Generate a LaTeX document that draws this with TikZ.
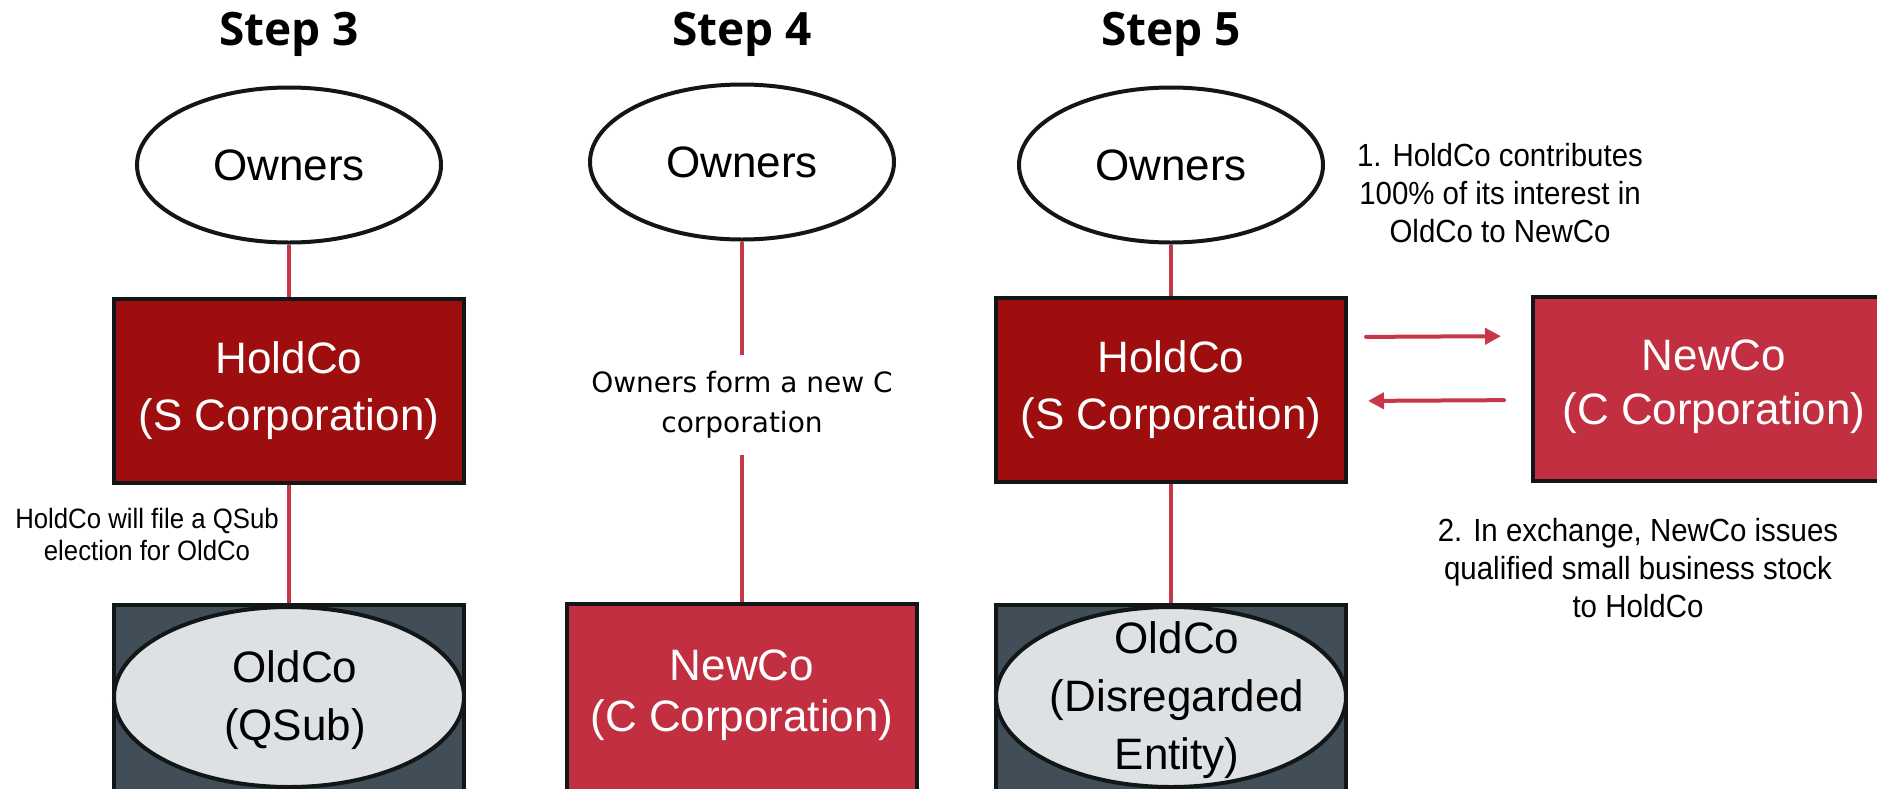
\documentclass[tikz,border=0pt]{standalone}
\usepackage{fontspec}
\setmainfont{Liberation Sans}
\newfontfamily\headfont{Open Sans}
\newfontfamily\wideface{DejaVu Sans}
\newfontfamily\narrowface[FakeStretch=0.92]{Liberation Sans}
\usetikzlibrary{shapes.geometric,arrows.meta}

\definecolor{holdred}{RGB}{158,14,14}
\definecolor{newred}{RGB}{193,47,64}
\definecolor{linkred}{RGB}{200,55,72}
\definecolor{slate}{RGB}{65,77,87}
\definecolor{pale}{RGB}{222,225,228}
\definecolor{edge}{RGB}{17,23,23}

\tikzset{
  owner/.style={ellipse, draw=edge, line width=4pt, fill=white, inner sep=0pt,
    minimum width=304pt, minimum height=155pt, font=\fontsize{44}{58}\selectfont},
  corp/.style={rectangle, draw=edge, line width=4pt, text=white, align=center,
    minimum width=350pt, minimum height=184pt, font=\fontsize{44}{57}\selectfont},
  scorp/.style={corp, fill=holdred},
  ccorp/.style={corp, fill=newred},
  subbox/.style={rectangle, draw=edge, line width=4pt, fill=slate,
    minimum width=350pt, minimum height=188pt},
  suboval/.style={ellipse, draw=edge, line width=4pt, fill=pale,
    minimum width=350pt, minimum height=180pt},
  subtext/.style={align=center, font=\fontsize{44}{58}\selectfont},
  link/.style={draw=linkred, line width=3.5pt},
  flow/.style={draw=linkred, line width=4pt, line cap=round,
    -{Triangle[length=16pt,width=16pt]}},
  steptitle/.style={anchor=base, font=\headfont\bfseries\fontsize{46}{50}\selectfont},
  note/.style={align=center, font=\narrowface\fontsize{32}{38}\selectfont},
  smallnote/.style={align=center, font=\narrowface\fontsize{28}{32}\selectfont},
}

\begin{document}
\begin{tikzpicture}[x=1pt, y=-1pt]
  \useasboundingbox (0,0) rectangle (1877,788);
  \clip (0,0) rectangle (1877,788);

  \begin{scope}[xshift=289pt]
    \node[steptitle] (t3) at (0,45) {Step 3};
    \node[owner] (own3) at (0,165) {Owners};
    \node[scorp] (hold3) at (0,391) {HoldCo\\(S Corporation)};
    \node[subbox] (old3) at (0,699) {};
    \node[suboval] (old3oval) at (0,697) {};
    \node[subtext] (old3txt) at (6,700) {OldCo\\(QSub)};
    \node[smallnote] (qsub) at (-142,534) {HoldCo will file a QSub\\election for OldCo};
    \draw[link] (own3) -- (hold3);
    \draw[link] (hold3) -- (old3);
  \end{scope}

  \begin{scope}[xshift=742pt]
    \node[steptitle] (t4) at (0,45) {Step 4};
    \node[owner] (own4) at (0,162) {Owners};
    \node[align=center, minimum height=100pt, inner sep=0pt,
      font=\wideface\fontsize{28}{40}\selectfont] (form4) at (0,405)
      {Owners form a new C\\corporation};
    \node[ccorp, minimum height=190pt, text depth=16pt,
      font=\fontsize{44}{51}\selectfont] (new4) at (0,699) {NewCo\\(C Corporation)};
    \draw[link] (own4) -- (form4);
    \draw[link] (form4) -- (new4);
  \end{scope}

  \begin{scope}[xshift=1171pt]
    \node[steptitle] (t5) at (0,45) {Step 5};
    \node[owner] (own5) at (0,165) {Owners};
    \node[scorp] (hold5) at (0,390) {HoldCo\\(S Corporation)};
    \node[subbox] (old5) at (0,699) {};
    \node[suboval] (old5oval) at (0,697) {};
    \node[subtext] (old5txt) at (6,700) {OldCo\\(Disregarded\\Entity)};
    \draw[link] (own5) -- (hold5);
    \draw[link] (hold5) -- (old5);
  \end{scope}

  \node[ccorp, minimum width=362pt, text depth=14pt,
    font=\fontsize{44}{54}\selectfont] (new5) at (1714,389) {NewCo\\(C Corporation)};
  \node[note] (contrib) at (1500,193) {1. HoldCo contributes\\100\% of its interest in\\OldCo to NewCo};
  \node[note] (issue) at (1638,568) {2. In exchange, NewCo issues\\qualified small business stock\\to HoldCo};

  \draw[flow, shorten <=18pt, shorten >=30pt] ([yshift=53pt]hold5.east) -- ([yshift=53pt]new5.west);
  \draw[flow, shorten <=27pt, shorten >=20pt] ([yshift=-11pt]new5.west) -- ([yshift=-11pt]hold5.east);
\end{tikzpicture}
\end{document}
